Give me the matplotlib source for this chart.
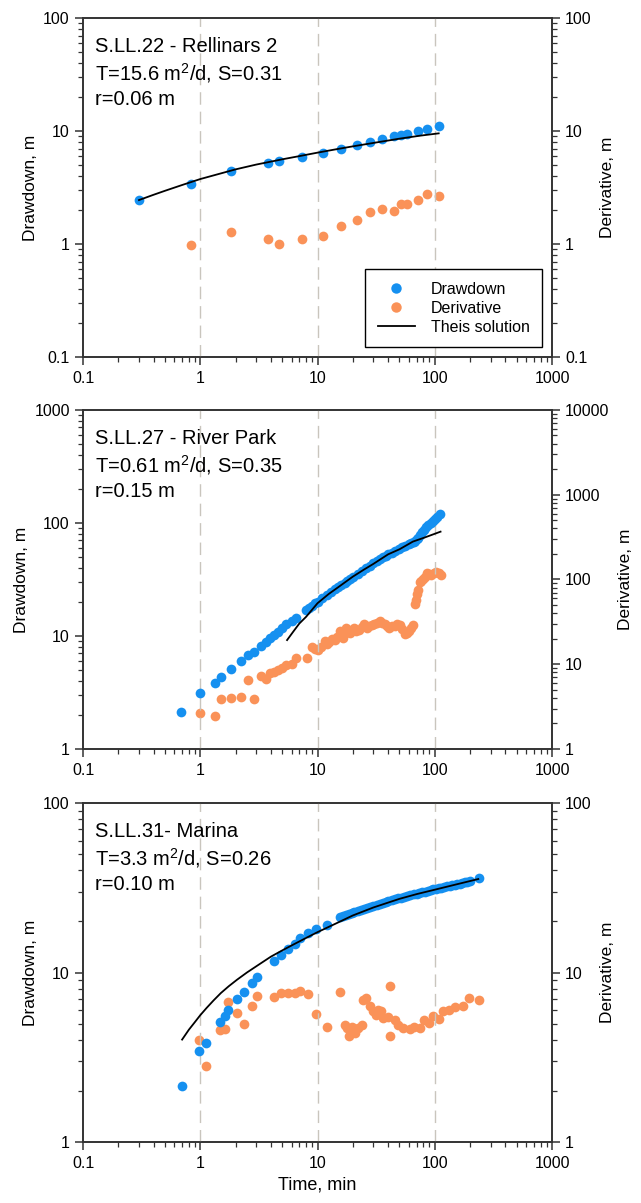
import numpy as np
import matplotlib
matplotlib.use("Agg")
import matplotlib.pyplot as plt
from matplotlib.ticker import LogLocator, FuncFormatter, NullFormatter

plt.rcParams['font.family'] = ['Liberation Sans', 'DejaVu Sans']
plt.rcParams['mathtext.fontset'] = 'custom'
plt.rcParams['mathtext.rm'] = 'Liberation Sans'

BLUE = '#1590f0'
ORANGE = '#fa9258'

# ---- S.LL.22 - Rellinars 2 ----
t1 = [0.30, 0.83, 1.83, 3.81, 4.67, 7.33, 11.1, 15.9, 21.6, 28.1, 35.7, 45.3, 51.6, 58.1, 72.5, 85.9, 108]
s1 = [2.43, 3.43, 4.41, 5.22, 5.40, 5.94, 6.40, 6.94, 7.47, 8.0, 8.5, 8.97, 9.29, 9.47, 10.0, 10.35, 11.07]
td1 = [0.83, 1.83, 3.81, 4.67, 7.33, 11.1, 15.9, 21.6, 28.1, 35.7, 45.3, 51.6, 58.1, 72.5, 85.9, 108]
d1 = [0.99, 1.27, 1.11, 1.0, 1.11, 1.19, 1.44, 1.64, 1.93, 2.06, 1.96, 2.24, 2.27, 2.43, 2.76, 2.65]
tt1 = [0.30, 0.4, 0.5, 0.7, 1, 1.5, 2, 3, 5, 7, 10, 15, 20, 30, 50, 75, 108]
th1 = [2.45, 2.73, 2.96, 3.33, 3.76, 4.22, 4.58, 5.05, 5.62, 6.00, 6.44, 6.95, 7.32, 7.85, 8.56, 9.1, 9.54]

# ---- S.LL.27 - River Park ----
t2 = [0.68, 1.0, 1.33, 1.51, 1.83, 2.24, 2.54, 2.89, 3.27, 3.61, 3.91, 4.23, 4.63, 5.0, 5.4, 6.0, 6.5,
      8, 8.5, 9, 9.5, 10, 11, 12, 13, 14, 15, 16, 17, 18, 19, 20, 22, 24, 26, 28, 30, 32, 34, 36, 38,
      40, 43, 46, 50, 53, 56, 60, 63, 66, 68, 70, 72, 75, 78, 81, 85, 88, 92, 96, 100, 105, 110]
s2 = [2.11, 3.11, 3.81, 4.34, 5.1, 5.97, 6.79, 7.27, 8.21, 8.91, 9.53, 10.2, 10.9, 11.7, 12.7, 13.6, 14.5,
      17.0, 17.8, 18.6, 19.4, 20.1, 21.6, 23.0, 24.4, 25.9, 27.3, 28.5, 29.7, 30.8, 31.9, 33.0, 35.4, 37.7,
      39.9, 42.0, 44.0, 45.9, 47.7, 49.5, 51.2, 52.8, 54.8, 56.7, 58.9, 60.7, 62.5, 64.8, 66.3, 67.9, 69.3,
      71.5, 74.0, 78.3, 83.0, 87.0, 92.8, 96.0, 100.0, 104.0, 108.0, 114.0, 120.0]
td2 = [1.0, 1.33, 1.51, 1.83, 2.24, 2.54, 2.89, 3.27, 3.61, 3.91, 4.23, 4.63, 5.0, 5.4, 6.0, 6.5, 8.2,
       8.9, 9.5, 10.1, 10.8, 11.5, 12.0, 12.6, 13.3, 14.0, 14.7, 15.5, 16.4, 17.0, 17.6, 18.2, 18.9, 19.7,
       20.6, 21.5, 22.6, 23.8, 25.1, 26.3, 27.6, 29.0, 30.6, 32.2, 33.8, 35.5, 37.4, 39.2, 41.1, 43.2, 45.5,
       48.0, 50.5, 53.0, 55.6, 58.0, 60.1, 62.5, 65.2, 67.6, 69.0, 70.8, 72.5, 74.5, 77.0, 79.4, 82.0, 85.4,
       89.0, 93, 98, 103, 108, 113]
d2 = [2.64, 2.45, 3.90, 3.97, 4.15, 6.47, 3.90, 7.28, 6.71, 7.83, 8.19, 8.57, 8.98, 9.82, 10.0, 11.9, 11.8,
      15.9, 15.2, 14.8, 15.9, 19.0, 17.5, 18.5, 19.8, 19.4, 21.0, 24.8, 20.3, 23.5, 26.6, 24.0, 23.2, 25.5,
      26.6, 24.5, 25.4, 27.5, 29.7, 27.0, 28.0, 29.0, 29.7, 31.0, 32.5, 31.0, 29.7, 28.0, 26.6, 28.0, 28.6,
      30.0, 29.0, 26.0, 22.6, 23.5, 24.8, 27.0, 29.0, 51.1, 58.0, 67.1, 75.0, 92.2, 95.0, 100, 108, 119,
      116, 114, 118, 124, 118, 114]
tt2 = [5.5, 6.2, 7.0, 8.0, 10, 12.5, 15, 20, 25, 30, 40, 50, 65, 80, 112]
th2 = [9.2, 10.9, 12.9, 14.8, 19.5, 23.6, 27.0, 33.5, 38.8, 43.5, 52.8, 58.5, 68.4, 73.7, 83.8]

# ---- S.LL.31- Marina ----
t3 = [0.70, 0.97, 1.11, 1.46, 1.62, 1.74, 2.06, 2.36, 2.74, 3.07, 4.25, 4.9, 5.6, 6.4, 7.1, 8.3, 9.8, 12.1,
      15.5, 16.5, 17.5, 18.5, 19.5, 20.5, 22, 23.5, 25, 26.5, 28, 30, 32, 34, 36, 38, 40, 43, 46, 49, 52,
      55, 58, 62, 66, 70, 74, 78, 82, 87, 92, 97, 102, 108, 114, 120, 127, 134, 141, 148, 156, 164, 172,
      180, 190, 200, 239]
s3 = [2.13, 3.43, 3.84, 5.1, 5.51, 6.04, 6.98, 7.71, 8.67, 9.36, 11.7, 12.7, 13.8, 14.8, 15.9, 17.1, 18.1, 19.0,
      21.2, 21.5, 21.8, 22.1, 22.4, 22.7, 23.1, 23.5, 23.8, 24.1, 24.4, 24.8, 25.1, 25.5, 25.8, 26.1, 26.4,
      26.8, 27.2, 27.5, 27.7, 28.0, 28.3, 28.6, 28.9, 29.2, 29.5, 29.8, 30.0, 30.4, 30.7, 30.9, 31.2, 31.5,
      31.7, 32.0, 32.3, 32.5, 32.8, 33.0, 33.3, 33.5, 33.8, 34.0, 34.3, 34.5, 36.1]
td3 = [0.97, 1.11, 1.46, 1.62, 1.74, 2.06, 2.36, 2.74, 3.07, 4.25, 4.9, 5.6, 6.4, 7.1, 8.3, 9.8, 12.1, 15.7,
       17.1, 18.0, 18.6, 19.5, 21.0, 22.3, 23.8, 24.2, 26.0, 27.9, 29.8, 31.3, 32.8, 34.5, 36.5, 39.8, 41.7,
       41.7, 45.6, 48.5, 53.3, 60.9, 67.0, 74.1, 80.3, 89.0, 96.6, 108.6, 117, 132, 150, 174, 196, 239]
d3 = [4.02, 2.79, 4.6, 4.63, 6.67, 5.77, 4.97, 6.31, 7.30, 7.14, 7.57, 7.57, 7.57, 7.74, 7.5, 5.69, 4.77, 7.67,
      4.92, 4.71, 4.24, 4.80, 4.4, 4.7, 4.92, 6.92, 7.07, 6.31, 5.9, 5.64, 6.0, 5.9, 5.39, 5.5, 8.28,
      4.2, 5.22, 4.92, 4.71, 4.63, 4.8, 4.71, 5.22, 5.03, 5.56, 5.31, 5.9, 6.0, 6.22, 6.31, 7.07, 6.93]
tt3 = [0.70, 0.8, 0.9, 1.0, 1.13, 1.3, 1.5, 1.75, 2.06, 2.5, 3.2, 4.0, 5.0, 6.2, 8, 10, 14, 20, 30, 50,
       70, 100, 150, 235]
th3 = [4.02, 4.6, 5.1, 5.6, 6.17, 6.85, 7.57, 8.3, 9.07, 10.0, 11.2, 12.4, 13.5, 14.6, 16.0, 17.3, 19.3,
       21.7, 24.2, 27.2, 29.0, 30.8, 33.0, 35.6]

titles = ['S.LL.22 - Rellinars 2\nT=15.6 m$^2$/d, S=0.31\nr=0.06 m',
          'S.LL.27 - River Park\nT=0.61 m$^2$/d, S=0.35\nr=0.15 m',
          'S.LL.31- Marina\nT=3.3 m$^2$/d, S=0.26\nr=0.10 m']

panels = [
    (t1, s1, td1, d1, tt1, th1, (0.1, 100), (0.1, 100)),
    (t2, s2, td2, d2, tt2, th2, (1, 1000), (1, 10000)),
    (t3, s3, td3, d3, tt3, th3, (1, 100), (1, 100)),
]
bottoms = [0.7032, 0.3774, 0.0507]

fmt = FuncFormatter(lambda v, p: f'{v:g}')
SPINE = '#333333'


def style_log(axis):
    axis.set_major_locator(LogLocator(base=10, numticks=20))
    axis.set_minor_locator(LogLocator(base=10, subs=np.arange(2, 10), numticks=20))
    axis.set_major_formatter(fmt)
    axis.set_minor_formatter(NullFormatter())


fig = plt.figure(figsize=(6.41, 12.03), dpi=100)

for i, (t, s, td, d, tt, th, ylim, ylim2) in enumerate(panels):
    ax = fig.add_axes([0.1295, bottoms[i], 0.7317, 0.2818])
    ax2 = ax.twinx()
    ax.set_zorder(ax2.get_zorder() + 1)
    ax.patch.set_visible(False)

    ax.set_xscale('log')
    ax.set_yscale('log')
    ax2.set_yscale('log')
    ax.set_xlim(0.1, 1000)
    ax.set_ylim(*ylim)
    ax2.set_ylim(*ylim2)
    style_log(ax.xaxis)
    style_log(ax.yaxis)
    style_log(ax2.yaxis)

    for xv in [1, 10, 100]:
        ax.axvline(xv, color='#c9c5bd', lw=1.0, ls=(0, (9, 5)), zorder=0)

    ax2.plot(td, d, 'o', color=ORANGE, ms=7, mec='none', zorder=2)
    h1, = ax.plot(t, s, 'o', color=BLUE, ms=7, mec='none', zorder=3, label='Drawdown')
    h3, = ax.plot(tt, th, '-', color='black', lw=1.3, zorder=4, label='Theis solution')
    h2, = ax.plot([], [], 'o', color=ORANGE, ms=7.5, mec='none', label='Derivative')

    for a in (ax, ax2):
        for sp in a.spines.values():
            sp.set_color(SPINE)
            sp.set_linewidth(1.2)
        a.tick_params(which='major', length=6, width=1.1, color=SPINE, labelsize=11.5, direction='out')
        a.tick_params(which='minor', length=3.5, width=0.9, color=SPINE, direction='out')
    ax.tick_params(axis='x', which='both', top=False, pad=4)

    ax.set_ylabel('Drawdown, m', fontsize=12.5, labelpad=4)
    ax2.set_ylabel('Derivative, m', fontsize=12.5, labelpad=6)

    ax.text(0.025, 0.945, titles[i], transform=ax.transAxes, ha='left', va='top',
            fontsize=14.5, linespacing=1.3)

    if i == 0:
        leg = ax.legend(handles=[h1, h2, h3], loc='lower right', fontsize=11.5, frameon=True,
                        fancybox=False, framealpha=1, edgecolor='black', borderaxespad=0.6,
                        handlelength=2.3, labelspacing=0.25, borderpad=0.8, handletextpad=1.0)
        leg.get_frame().set_linewidth(1.0)
        for lh in leg.legend_handles[:2]:
            lh.set_markersize(7.5)
    if i == 2:
        ax.set_xlabel('Time, min', fontsize=13, labelpad=4)

fig.savefig('out.png', dpi=100)
